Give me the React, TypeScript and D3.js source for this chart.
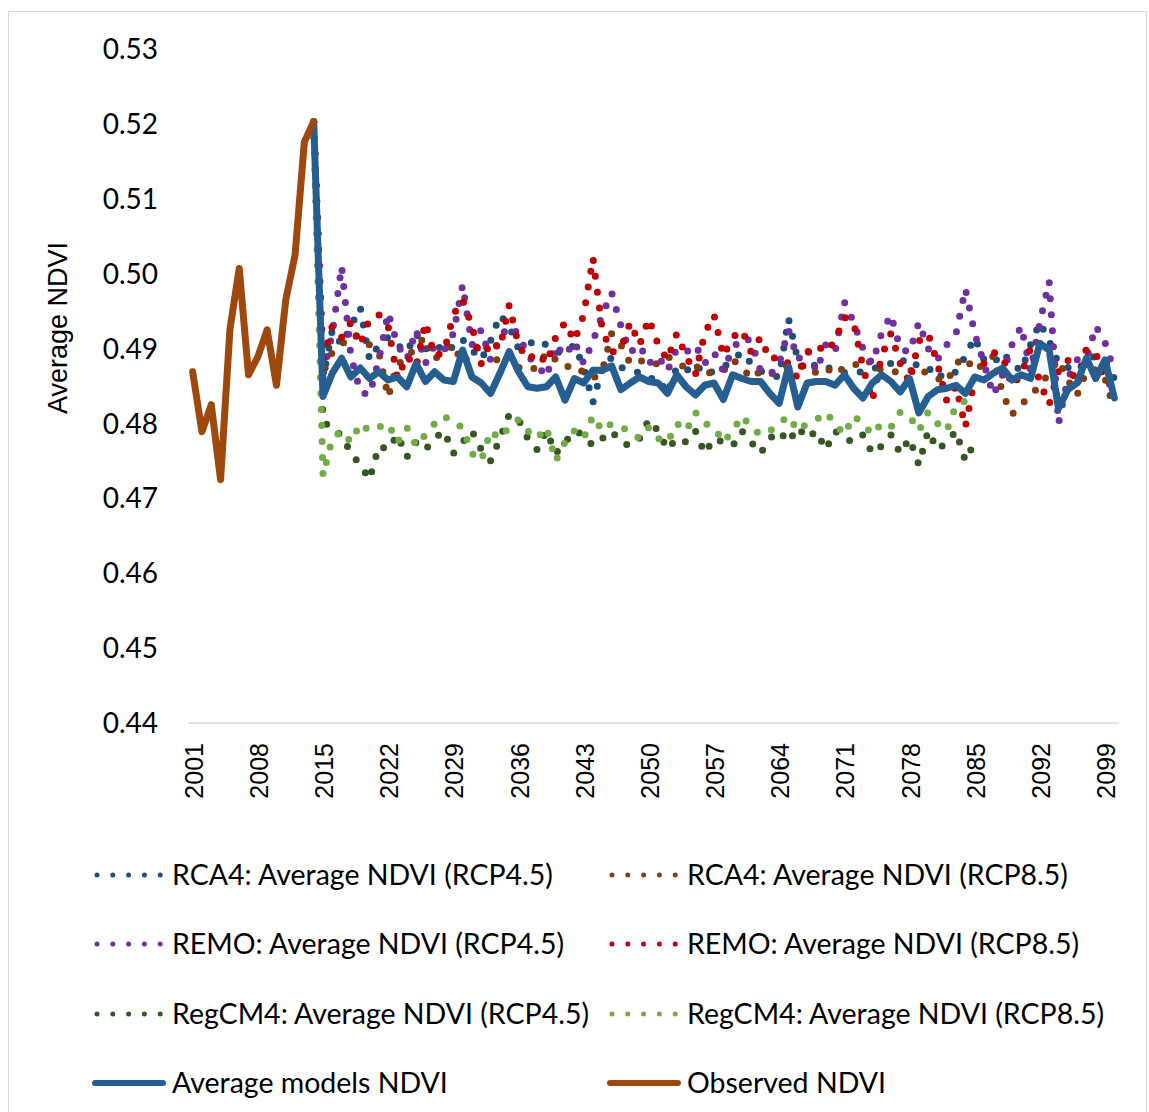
import * as d3 from "d3";
import { useEffect, useRef } from "react";

// categories
const years = d3.range(2001, 2101);
const xTickYears = [2001, 2008, 2015, 2022, 2029, 2036, 2043, 2050, 2057, 2064, 2071, 2078, 2085, 2092, 2099];
const yTicks = [0.44, 0.45, 0.46, 0.47, 0.48, 0.49, 0.5, 0.51, 0.52, 0.53];

// observed 2001-2014
const observed = [0.4869, 0.4789, 0.4825, 0.4725, 0.4925, 0.5007, 0.4865, 0.4889, 0.4925, 0.4851, 0.4965, 0.5025, 0.5176, 0.5203];

// model series start at 2014 (joined to last observed value), values below are 2015-2100
const joinValue = 0.5203;

const avgModels = [
  0.4836, 0.4867, 0.4887, 0.4862, 0.4874, 0.486, 0.4869, 0.4858, 0.4862, 0.4849,
  0.488, 0.4856, 0.4869, 0.4858, 0.4856, 0.4898, 0.4862, 0.4854, 0.484, 0.4867,
  0.4896, 0.4869, 0.4849, 0.4847, 0.4849, 0.4862, 0.4831, 0.486, 0.4854, 0.4871,
  0.4871, 0.4877, 0.4845, 0.4854, 0.4862, 0.4856, 0.4854, 0.484, 0.4865, 0.4849,
  0.4838, 0.4851, 0.4854, 0.4832, 0.4865, 0.486, 0.4856, 0.4856, 0.484, 0.4827,
  0.4876, 0.4822, 0.4854, 0.4856, 0.4856, 0.4851, 0.4865, 0.4847, 0.4834, 0.4854,
  0.4865, 0.4856, 0.4842, 0.486, 0.4814, 0.4836, 0.4845, 0.4847, 0.4851, 0.484,
  0.4862, 0.4858, 0.4867, 0.4874, 0.4858, 0.4865, 0.486, 0.4907, 0.4898, 0.482,
  0.4845, 0.4854, 0.4887, 0.486, 0.4885, 0.4834,
];

const rca45 = [
  0.486, 0.4925, 0.4905, 0.493, 0.4955, 0.4885, 0.4905, 0.4915, 0.4905, 0.4895,
  0.492, 0.49, 0.4895, 0.4908, 0.49, 0.4912, 0.4898, 0.4885, 0.491, 0.4945,
  0.493, 0.49, 0.4905, 0.4912, 0.4905, 0.4895, 0.4895, 0.4905, 0.4875, 0.4828,
  0.4875, 0.4888, 0.4875, 0.487, 0.4868, 0.486, 0.486, 0.484, 0.4875, 0.487,
  0.488, 0.4865, 0.487, 0.4875, 0.4885, 0.4895, 0.488, 0.487, 0.4865, 0.4862,
  0.494, 0.4885, 0.487, 0.488, 0.4875, 0.4872, 0.4868, 0.487, 0.4868, 0.4872,
  0.4878, 0.488, 0.4888, 0.4875, 0.488, 0.4875, 0.486, 0.487, 0.4868, 0.489,
  0.4915, 0.4885, 0.488, 0.4895, 0.488, 0.487, 0.4905, 0.4935, 0.491, 0.488,
  0.4875, 0.487, 0.4885, 0.489, 0.4885, 0.486,
];

const rca85 = [
  0.4868, 0.4895, 0.4905, 0.4918, 0.4915, 0.4905, 0.4895, 0.4835, 0.488, 0.4885,
  0.4905, 0.4915, 0.4885, 0.49, 0.4905, 0.488, 0.4895, 0.491, 0.4895, 0.488,
  0.489, 0.4875, 0.487, 0.4875, 0.4895, 0.4885, 0.4875, 0.4878, 0.4868, 0.486,
  0.487, 0.492, 0.4905, 0.488, 0.4885, 0.4878, 0.488, 0.489, 0.488, 0.4875,
  0.4878, 0.4865, 0.487, 0.487, 0.4885, 0.4875, 0.486, 0.487, 0.4865, 0.4872,
  0.4878, 0.488, 0.487, 0.4868, 0.4875, 0.4865, 0.4875, 0.488, 0.4875, 0.4885,
  0.487, 0.487, 0.4868, 0.487, 0.4875, 0.4865, 0.486, 0.4855, 0.488, 0.4888,
  0.487, 0.488, 0.489, 0.484, 0.4812, 0.4825, 0.4838, 0.485, 0.4868, 0.4885,
  0.4858, 0.4838, 0.487, 0.4872, 0.486, 0.4818,
];

const remo45 = [
  0.4865, 0.492, 0.501, 0.489, 0.4842, 0.4838, 0.4885, 0.4948, 0.4905, 0.4885,
  0.4925, 0.488, 0.4905, 0.4898, 0.492, 0.4985, 0.4905, 0.4925, 0.4885, 0.4915,
  0.493, 0.492, 0.489, 0.4878, 0.4862, 0.4905, 0.489, 0.491, 0.488, 0.491,
  0.4945, 0.4975, 0.493, 0.4895, 0.4905, 0.488, 0.489, 0.487, 0.49, 0.4895,
  0.4905, 0.488, 0.4895, 0.487, 0.49, 0.4915, 0.491, 0.487, 0.4865, 0.488,
  0.4925, 0.4885, 0.49, 0.487, 0.4905, 0.4895, 0.4962, 0.4935, 0.49, 0.488,
  0.492, 0.4945, 0.49, 0.4895, 0.4935, 0.49, 0.4885, 0.4905, 0.492, 0.498,
  0.492, 0.488, 0.4838, 0.4865, 0.4905, 0.493, 0.487, 0.4935, 0.499, 0.48,
  0.486, 0.4885, 0.4885, 0.493, 0.4908, 0.487,
];

const remo85 = [
  0.4885, 0.493, 0.4915, 0.4935, 0.4905, 0.494, 0.4945, 0.493, 0.486, 0.489,
  0.4875, 0.4935, 0.489, 0.4895, 0.4945, 0.4965, 0.493, 0.488, 0.491, 0.49,
  0.4958, 0.4905, 0.4885, 0.4895, 0.488, 0.4915, 0.4935, 0.491, 0.4945, 0.5021,
  0.4925, 0.4895, 0.49, 0.4935, 0.4905, 0.494, 0.4905, 0.4885, 0.492, 0.489,
  0.4865, 0.492, 0.4945, 0.489, 0.4915, 0.4925, 0.4895, 0.4915, 0.4885, 0.489,
  0.488, 0.486, 0.4895, 0.4905, 0.4895, 0.491, 0.4942, 0.4935, 0.4875, 0.483,
  0.489, 0.492, 0.488, 0.4855, 0.491, 0.492, 0.488, 0.483, 0.485, 0.4795,
  0.486, 0.488, 0.4895, 0.489, 0.485, 0.4865, 0.49, 0.4855, 0.4825, 0.487,
  0.4885, 0.485, 0.49, 0.4895, 0.4855, 0.485,
];

// RegCM4 runs stop before 2100
const regcm45 = [
  0.4805, 0.479, 0.4785, 0.476, 0.4745, 0.4725, 0.477, 0.4765, 0.4785, 0.4755,
  0.4775, 0.4765, 0.478, 0.479, 0.476, 0.4775, 0.479, 0.4765, 0.475, 0.478,
  0.4812, 0.4805, 0.478, 0.4765, 0.479, 0.476, 0.4775, 0.479, 0.4785, 0.477,
  0.478, 0.479, 0.4775, 0.477, 0.478, 0.4805, 0.479, 0.4765, 0.478, 0.4775,
  0.479, 0.476, 0.478, 0.4775, 0.477, 0.479, 0.4775, 0.476, 0.478, 0.479,
  0.4775, 0.4795, 0.478, 0.479, 0.4765, 0.479, 0.478, 0.4775, 0.4785, 0.476,
  0.477, 0.4785, 0.476, 0.478, 0.4745, 0.479, 0.4765, 0.4775, 0.479, 0.475,
  0.4775,
];

const regcm85 = [
  0.473, 0.478, 0.479, 0.4775, 0.48, 0.479, 0.4795, 0.48, 0.4775, 0.4795,
  0.477, 0.4785, 0.48, 0.481, 0.48, 0.4795, 0.476, 0.475, 0.479, 0.478,
  0.4795, 0.4805, 0.479, 0.478, 0.4795, 0.475, 0.4775, 0.479, 0.478, 0.481,
  0.479, 0.48, 0.4795, 0.479, 0.478, 0.4795, 0.478, 0.4775, 0.48, 0.479,
  0.4815, 0.48, 0.4795, 0.4775, 0.479, 0.481, 0.4795, 0.4785, 0.479, 0.48,
  0.481, 0.479, 0.48, 0.4805, 0.4815, 0.48, 0.4785, 0.481, 0.48, 0.4785,
  0.48, 0.4795, 0.4815, 0.481, 0.479, 0.4815, 0.48, 0.479, 0.4825, 0.483,
];

type Pt = { year: number; v: number };

const fromJoin = (vals: number[]): Pt[] =>
  [joinValue, ...vals].map((v, i) => ({ year: 2014 + i, v }));

const dotted = [
  { name: "RCA4: Average NDVI (RCP4.5)", color: "#1f4e79", data: rca45 },
  { name: "RCA4: Average NDVI (RCP8.5)", color: "#843c0c", data: rca85 },
  { name: "REMO: Average NDVI (RCP4.5)", color: "#7030a0", data: remo45 },
  { name: "REMO: Average NDVI (RCP8.5)", color: "#c00000", data: remo85 },
  { name: "RegCM4: Average NDVI (RCP4.5)", color: "#375623", data: regcm45 },
  { name: "RegCM4: Average NDVI (RCP8.5)", color: "#70ad47", data: regcm85 },
];

const AVG_COLOR = "#255e91";
const OBS_COLOR = "#9e480e";
const LEGEND_FONT = "Lato, 'Open Sans', sans-serif";
const ARIAL = "'Liberation Sans', Arial, sans-serif";

export default function App() {
  const ref = useRef<SVGSVGElement | null>(null);

  useEffect(() => {
    if (!ref.current) return;
    document.body.style.margin = "0";
    const svg = d3.select(ref.current);
    svg.selectAll("*").remove();

    const x = d3.scalePoint<number>().domain(years).range([188, 1119]).padding(0.5);
    const y = d3.scaleLinear().domain([0.44, 0.53]).range([723, 49]);

    // chart border
    svg.append("rect")
      .attr("x", 8.5).attr("y", 11.5)
      .attr("width", 1138).attr("height", 1115)
      .attr("fill", "white")
      .attr("stroke", "#d9d9d9");

    // y tick labels
    svg.append("g").selectAll("text")
      .data(yTicks)
      .enter().append("text")
      .attr("x", 158)
      .attr("y", d => y(d))
      .attr("dy", "0.36em")
      .attr("text-anchor", "end")
      .style("font-family", LEGEND_FONT)
      .style("font-size", "28px")
      .attr("fill", "#000")
      .text(d => d.toFixed(2));

    // x axis line
    svg.append("line")
      .attr("x1", 188).attr("x2", 1119)
      .attr("y1", y(0.44)).attr("y2", y(0.44))
      .attr("stroke", "#d9d9d9").attr("stroke-width", 1.5);

    // x tick labels
    svg.append("g").selectAll("text")
      .data(xTickYears)
      .enter().append("text")
      .attr("transform", d => `translate(${x(d)! + 1},743) rotate(-90)`)
      .attr("dy", "0.36em")
      .attr("text-anchor", "end")
      .style("font-family", ARIAL)
      .style("font-size", "25px")
      .attr("fill", "#000")
      .text(d => String(d));

    // y title
    svg.append("text")
      .attr("transform", "translate(57,328) rotate(-90)")
      .attr("dy", "0.36em")
      .attr("text-anchor", "middle")
      .style("font-family", ARIAL)
      .style("font-size", "27px")
      .text("Average NDVI");

    const line = d3.line<Pt>()
      .x(d => x(d.year)!)
      .y(d => y(d.v));

    const plot = svg.append("g");

    dotted.forEach(s => {
      plot.append("path")
        .datum(fromJoin(s.data))
        .attr("d", line)
        .attr("fill", "none")
        .attr("stroke", s.color)
        .attr("stroke-width", 7)
        .attr("stroke-linecap", "round")
        .attr("stroke-dasharray", "0 16");
    });

    plot.append("path")
      .datum(fromJoin(avgModels))
      .attr("d", line)
      .attr("fill", "none")
      .attr("stroke", AVG_COLOR)
      .attr("stroke-width", 7)
      .attr("stroke-linejoin", "round")
      .attr("stroke-linecap", "round");

    plot.append("path")
      .datum(observed.map((v, i) => ({ year: 2001 + i, v })))
      .attr("d", line)
      .attr("fill", "none")
      .attr("stroke", OBS_COLOR)
      .attr("stroke-width", 7)
      .attr("stroke-linejoin", "round")
      .attr("stroke-linecap", "round");

    // legend
    const legendItems = [
      ...dotted.map(s => ({ name: s.name, color: s.color, dotted: true })),
      { name: "Average models NDVI", color: AVG_COLOR, dotted: false },
      { name: "Observed NDVI", color: OBS_COLOR, dotted: false },
    ];
    const rowY = [875, 944, 1014, 1083];
    const colX = [95, 610];
    const lg = svg.append("g");
    legendItems.forEach((it, i) => {
      const cx = colX[i % 2];
      const cy = rowY[Math.floor(i / 2)];
      const g = lg.append("g").attr("transform", `translate(${cx},${cy})`);
      if (it.dotted) {
        g.append("line")
          .attr("x1", 2).attr("x2", 66)
          .attr("y1", 0).attr("y2", 0)
          .attr("stroke", it.color)
          .attr("stroke-width", 5)
          .attr("stroke-linecap", "round")
          .attr("stroke-dasharray", "0 15.8");
      } else {
        g.append("line")
          .attr("x1", 0).attr("x2", 68)
          .attr("y1", 0).attr("y2", 0)
          .attr("stroke", it.color)
          .attr("stroke-width", 6)
          .attr("stroke-linecap", "round");
      }
      g.append("text")
        .attr("x", 77)
        .attr("y", 0)
        .attr("dy", "0.36em")
        .style("font-family", LEGEND_FONT)
        .style("font-size", "28.5px")
        .attr("fill", "#000")
        .text(it.name);
    });
  }, []);

  return (
    <svg
      ref={ref}
      width={1149}
      height={1112}
      style={{ position: "absolute", left: 0, top: 0, display: "block" }}
    />
  );
}
